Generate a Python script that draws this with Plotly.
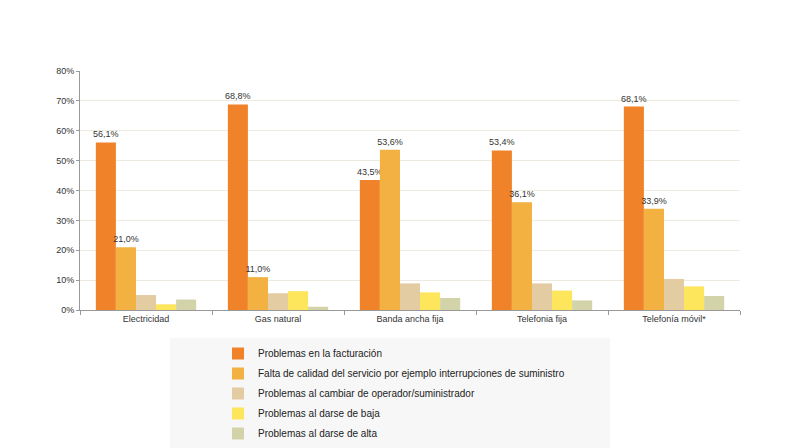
import plotly.graph_objects as go

categories = ["Electricidad", "Gas natural", "Banda ancha fija", "Telefonia fija", "Telefonía móvil*"]
series_names = [
    "Problemas en la facturación",
    "Falta de calidad del servicio por ejemplo interrupciones de suministro",
    "Problemas al cambiar de operador/suministrador",
    "Problemas al darse de baja",
    "Problemas al darse de alta",
]
facturacion = [56.1, 68.8, 43.5, 53.4, 68.1]
calidad = [21.0, 11.0, 53.6, 36.1, 33.9]
cambiar = [5.0, 5.6, 8.9, 8.9, 10.4]
baja = [1.9, 6.3, 5.9, 6.5, 7.9]
alta = [3.5, 1.1, 4.0, 3.2, 4.7]
series_values = [facturacion, calidad, cambiar, baja, alta]
colors = ["#F0832A", "#F2B140", "#E3CBA2", "#FDE55C", "#D3D3A9"]
labelled = [True, True, False, False, False]

fig = go.Figure()
for i, (name, vals, col, lab) in enumerate(zip(series_names, series_values, colors, labelled)):
    kw = {}
    if lab:
        kw = dict(
            text=[f"{v:.1f}%".replace(".", ",") for v in vals],
            textposition="outside",
            constraintext="none",
            textfont=dict(size=9, color="#333333", family="Liberation Sans, Arial"),
            cliponaxis=False,
        )
    fig.add_trace(go.Bar(x=categories, y=vals, name=name, legendgroup=f"g{i}",
                         marker=dict(color=col, line=dict(width=0)), **kw))

fig.add_shape(type="rect", xref="paper", yref="paper", x0=(170-80)/660, x1=(610-80)/660,
              y0=(310-448)/239, y1=(310-338)/239, fillcolor="#F7F7F7", line=dict(width=0), layer="below")

fig.update_layout(
    width=802, height=448,
    margin=dict(l=80, r=62, t=71, b=138, autoexpand=False),
    paper_bgcolor="white", plot_bgcolor="white",
    barmode="group", bargap=0.24, bargroupgap=0,
    font=dict(family="Liberation Sans, Arial", size=9, color="#333333"),
    showlegend=True,
    legend=dict(
        xref="container", yref="container",
        x=218/802, xanchor="left", y=1-339/448, yanchor="top",
        bgcolor="rgba(0,0,0,0)", font=dict(size=10, color="#222222"),
        itemwidth=30, tracegroupgap=1, traceorder="grouped",
    ),
    yaxis=dict(range=[0, 80], dtick=10, ticksuffix="%", showgrid=True, gridcolor="#EEEADF",
               showline=True, linecolor="#999999", linewidth=1, ticks="outside", ticklen=3,
               tickcolor="#999999", zeroline=False, tickfont=dict(size=9)),
    xaxis=dict(showline=True, linecolor="#999999", linewidth=1, ticks="outside", ticklen=4,
               tickcolor="#999999", tickson="boundaries", tickfont=dict(size=9)),
)

fig.write_html("out.html")
